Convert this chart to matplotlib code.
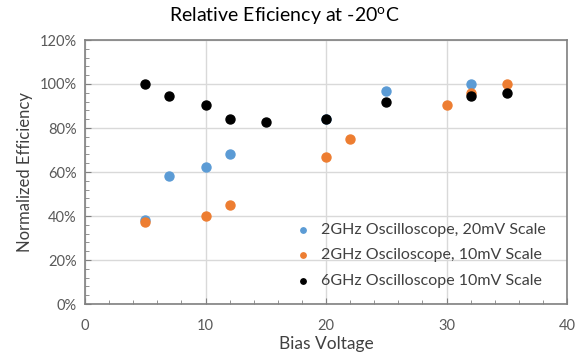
import matplotlib.pyplot as plt
from matplotlib.ticker import MultipleLocator, PercentFormatter

plt.rcParams['font.family'] = ['Lato', 'DejaVu Sans']

# data
v_20mv = [5, 7, 10, 12, 20, 25, 32]
eff_20mv = [38, 58, 62.4, 68, 84, 96.6, 100]

v_10mv = [5, 10, 12, 20, 22, 30, 32, 35]
eff_10mv = [37.2, 40, 45, 66.7, 75, 90.6, 95.7, 100]

v_6g = [5, 7, 10, 12, 15, 20, 25, 32, 35]
eff_6g = [100, 94.5, 90.4, 84.3, 82.5, 84, 92, 94.5, 96]

labels = ['2GHz Oscilloscope, 20mV Scale',
          '2GHz Osciloscope, 10mV Scale',
          '6GHz Oscilloscope 10mV Scale']

txt = '#404040'
fig = plt.figure(figsize=(5.86, 3.54), dpi=100)
ax = fig.add_axes([85/586, 1 - 304/354, (567 - 85)/586, (304 - 40)/354])

ax.scatter(v_20mv, eff_20mv, s=42, color='#5B9BD5', label=labels[0], zorder=3)
ax.scatter(v_10mv, eff_10mv, s=42, color='#ED7D31', label=labels[1], zorder=3)
ax.scatter(v_6g, eff_6g, s=42, color='black', label=labels[2], zorder=3)

ax.set_xlim(0, 40)
ax.set_ylim(0, 120)
ax.xaxis.set_major_locator(MultipleLocator(10))
ax.xaxis.set_minor_locator(MultipleLocator(2))
ax.yaxis.set_major_locator(MultipleLocator(20))
ax.yaxis.set_minor_locator(MultipleLocator(4))
ax.yaxis.set_major_formatter(PercentFormatter(decimals=0))
ax.grid(which='major', color='#D9D9D9', linewidth=1)
ax.set_axisbelow(True)

ax.tick_params(which='both', direction='in', colors='#808080',
               labelcolor='#595959', labelsize=10.5, top=False, right=False)
ax.tick_params(which='major', length=4)
ax.tick_params(which='minor', length=3)
ax.tick_params(axis='x', pad=11)
ax.tick_params(axis='y', pad=6)
for sp in ax.spines.values():
    sp.set_color('#808080')
    sp.set_linewidth(1.2)

ax.set_xlabel('Bias Voltage', fontsize=12.5, color=txt, labelpad=2)
ax.set_ylabel('Normalized Efficiency', fontsize=12, color=txt, labelpad=5)
fig.suptitle('Relative Eficiency at -20$^{\\mathregular{o}}$C', x=0.485, y=0.985,
             fontsize=14, color='black')

leg = ax.legend(loc='lower right', bbox_to_anchor=(0.975, 0.025), frameon=False,
                fontsize=11.5, markerscale=0.6, handletextpad=0.1,
                labelspacing=0.7, borderaxespad=0.2)
for t in leg.get_texts():
    t.set_color(txt)

fig.savefig('out.png', dpi=100)
